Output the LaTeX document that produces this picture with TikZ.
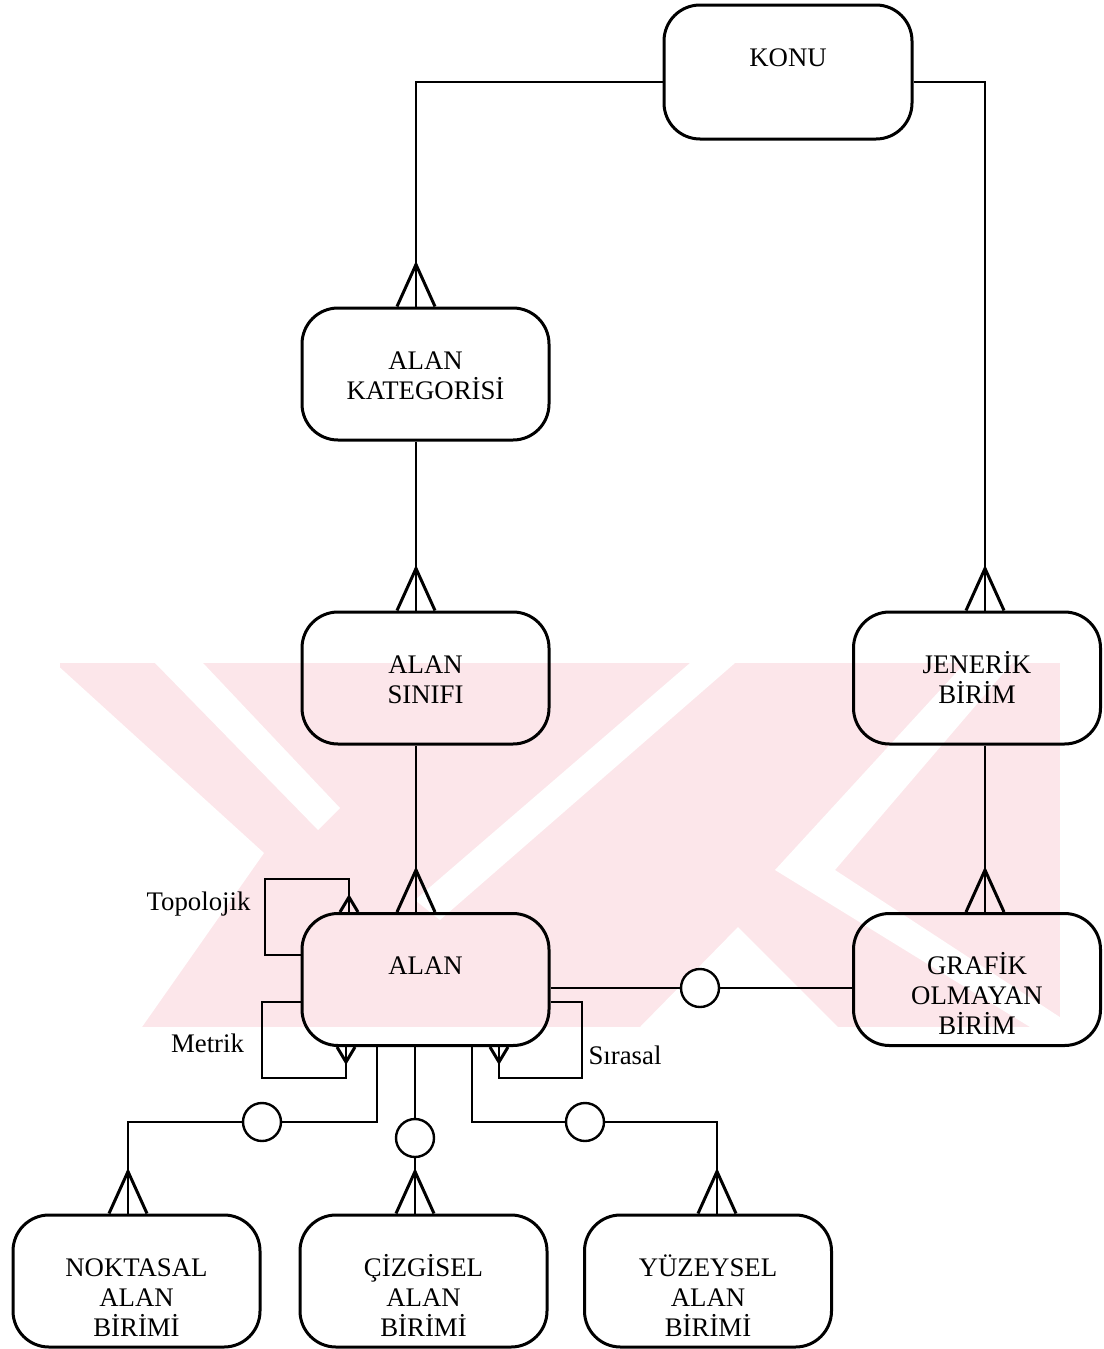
\documentclass[tikz,border=0pt]{standalone}
\usepackage{fontspec}
\setmainfont{Liberation Serif}
\definecolor{wmpink}{RGB}{252,230,234}
% fixed height for the first line of each entity name
\newcommand{\firstln}{\rule{0pt}{13pt}}
\tikzset{
  box/.style={draw, line width=1.5pt, rounded corners=18pt, minimum width=123.5pt,
    minimum height=66pt, inner sep=0pt},
  boxtext/.style={anchor=north, align=center, inner sep=0pt,
    font=\fontsize{13.4}{15}\selectfont},
  lbl/.style={anchor=base, inner sep=0pt, font=\fontsize{13.4}{15}\selectfont},
  conn/.style={line width=1pt},
  foot/.style={line width=1.5pt, line join=miter},
  opt/.style={draw, circle, line width=1.2pt, minimum size=19pt, inner sep=0pt, fill=white},
  crowup/.pic={\draw[foot] (-19,0) -- (0,-42) -- (19,0);},
  smallup/.pic={\draw[foot] (-9,0) -- (0,-15) -- (9,0);},
  smalldown/.pic={\draw[foot] (-9,0) -- (0,15) -- (9,0);},
}
\begin{document}
\begin{tikzpicture}[x=0.5pt,y=-0.5pt]
\useasboundingbox (0,0) rectangle (1103,1349);

% pale background emblem
\fill[wmpink] (60,663) rectangle (1060,1027);
\fill[white] (55,663) -- (264,853) -- (142,1027) -- (55,1027) -- cycle;
\fill[white] (155,663) -- (203,663) -- (340,808) -- (318,830) -- cycle;
\fill[white] (690,663) -- (735,663) -- (440,920) -- (415,900) -- cycle;
\fill[white] (738,927) -- (838,1027) -- (640,1027) -- cycle;
\fill[white] (965,663) -- (1012,663) -- (835,870) -- (1075,1027) -- (1030,1027) -- (775,870) -- cycle;

% entities
\node[box, minimum width=124pt, minimum height=67pt] (konu) at (788,72) {};
\node[box] (kat)   at (425.5,374) {};
\node[box] (sinif) at (425.5,678) {};
\node[box] (jen)   at (977,678) {};
\node[box] (alan)  at (425.5,979.5) {};
\node[box] (graf)  at (977,979.5) {};
\node[box] (nokta) at (136.5,1281) {};
\node[box] (cizgi) at (423.5,1281) {};
\node[box] (yuzey) at (708,1281) {};

\node[boxtext] (konu-t)  at ([yshift=-18.25pt]konu.north)  {\firstln KONU};
\node[boxtext] (kat-t)   at ([yshift=-18.25pt]kat.north)   {\firstln ALAN\\KATEGORİSİ};
\node[boxtext] (sinif-t) at ([yshift=-18.25pt]sinif.north) {\firstln ALAN\\SINIFI};
\node[boxtext] (jen-t)   at ([yshift=-18.25pt]jen.north)   {\firstln JENERİK\\BİRİM};
\node[boxtext] (alan-t)  at ([yshift=-18.25pt]alan.north)  {\firstln ALAN};
\node[boxtext] (graf-t)  at ([yshift=-18.25pt]graf.north)  {\firstln GRAFİK\\OLMAYAN\\BİRİM};
\node[boxtext] (nokta-t) at ([yshift=-18.25pt]nokta.north) {\firstln NOKTASAL\\ALAN\\BİRİMİ};
\node[boxtext] (cizgi-t) at ([yshift=-18.25pt]cizgi.north) {\firstln ÇİZGİSEL\\ALAN\\BİRİMİ};
\node[boxtext] (yuzey-t) at ([yshift=-18.25pt]yuzey.north) {\firstln YÜZEYSEL\\ALAN\\BİRİMİ};

% optional-membership circles
\node[opt] (o1) at (700,988) {};
\node[opt] (o2) at (262,1122) {};
\node[opt] (o3) at (415,1138) {};
\node[opt] (o4) at (585,1122) {};

% elbow points of the recursive relationships
\coordinate (tp) at (265,879);
\coordinate (mt) at (262,1078);
\coordinate (sr) at (582,1078);

% relationships
\draw[conn] ([yshift=-5pt]konu.west) -| ([xshift=-4.75pt]kat.north);
\draw[conn] ([yshift=-5pt]konu.east) -| ([xshift=4pt]jen.north);
\draw[conn] ([xshift=-4.75pt]kat.south) -- ([xshift=-4.75pt]sinif.north);
\draw[conn] ([xshift=-4.75pt]sinif.south) -- ([xshift=-4.75pt]alan.north);
\draw[conn] ([xshift=4pt]jen.south) -- ([xshift=4pt]graf.north);
\draw[conn] ([yshift=-4.25pt]alan.east) -- (o1) -- ([yshift=-4.25pt]graf.west);

\draw[conn] ([yshift=12.25pt]alan.west) -| (tp) -| ([xshift=-38.25pt]alan.north);
\draw[conn] ([yshift=-11.25pt]alan.west) -| (mt) -| ([xshift=-39.75pt]alan.south);
\draw[conn] ([yshift=-11.25pt]alan.east) -| (sr) -| ([xshift=36.75pt]alan.south);

\draw[conn] ([xshift=-24.25pt]alan.south) |- (o2);
\draw[conn] (o2) -| ([xshift=-4.25pt]nokta.north);
\draw[conn] ([xshift=-5.25pt]alan.south) -- (o3) -- ([xshift=-4.25pt]cizgi.north);
\draw[conn] ([xshift=23.25pt]alan.south) |- (o4);
\draw[conn] (o4) -| ([xshift=4.5pt]yuzey.north);

% crow's feet
\pic at ([xshift=-4.75pt]kat.north) {crowup};
\pic at ([xshift=-4.75pt]sinif.north) {crowup};
\pic at ([xshift=-4.75pt]alan.north) {crowup};
\pic at ([xshift=4pt]jen.north) {crowup};
\pic at ([xshift=4pt]graf.north) {crowup};
\pic at ([xshift=-4.25pt]nokta.north) {crowup};
\pic at ([xshift=-4.25pt]cizgi.north) {crowup};
\pic at ([xshift=4.5pt]yuzey.north) {crowup};
\pic at ([xshift=-38.25pt]alan.north) {smallup};
\pic at ([xshift=-39.75pt]alan.south) {smalldown};
\pic at ([xshift=36.75pt]alan.south) {smalldown};

% relationship names
\node[lbl] (topo-l) at (198.5,910) {Topolojik};
\node[lbl] (metrik-l) at (207.5,1052) {Metrik};
\node[lbl] (sira-l) at (625,1064) {Sırasal};
\end{tikzpicture}
\end{document}
